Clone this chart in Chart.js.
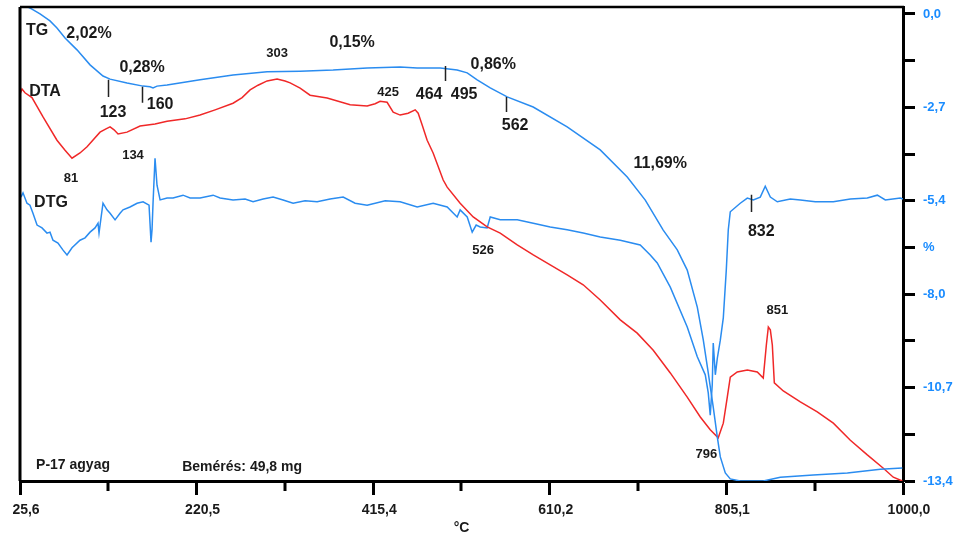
<!DOCTYPE html>
<html>
<head>
<meta charset="utf-8">
<script src="https://cdn.jsdelivr.net/npm/chart.js@4.4.1/dist/chart.umd.min.js"></script>
<style>
  html, body { margin: 0; padding: 0; background: #fff; }
  canvas { display: block; }
</style>
</head>
<body>
<canvas id="thermoCanvas" width="959" height="537"></canvas>
<script>
// ---- TG görbe (hőmérséklet °C, tömegváltozás %) ----
const tgTemp = [34.4, 38.8, 47.7, 58.7, 66.4, 75.3, 88.5, 102.9, 117.2, 125.0, 143.7, 161.4, 169.1, 172.4, 176.8, 187.9,
  224.3, 260.7, 298.3, 334.7, 371.1, 408.7, 445.1, 463.9, 489.3, 508.0, 519.1, 530.1, 544.5, 563.2, 591.9, 629.4,
  665.9, 695.7, 715.6, 735.4, 750.9, 761.9, 773.0, 779.6, 785.1, 790.6, 795.1, 798.4, 803.9, 809.4, 820.4, 845.8,
  864.6, 901.0, 938.6, 975.0, 999.3];
const tgMass = [0.20, 0.14, 0.00, -0.20, -0.40, -0.69, -1.03, -1.46, -1.78, -1.87, -1.98, -2.07, -2.09, -2.12, -2.07, -2.04,
  -1.89, -1.75, -1.66, -1.64, -1.61, -1.55, -1.52, -1.55, -1.55, -1.61, -1.69, -1.89, -2.12, -2.38, -2.67, -3.24,
  -3.90, -4.68, -5.34, -6.20, -6.77, -7.35, -8.41, -9.35, -10.30, -11.28, -12.14, -12.71, -13.17, -13.34, -13.40, -13.40,
  -13.29, -13.23, -13.17, -13.06, -13.03];

// ---- DTA görbe (relatív jel) ----
const dtaTemp = [25.6, 27.8, 31.1, 38.8, 51.0, 66.4, 75.3, 83.0, 91.8, 99.6, 113.9, 120.5, 125.0, 129.4, 133.8, 143.7,
  158.1, 174.6, 187.9, 207.8, 224.3, 240.9, 260.7, 270.7, 279.5, 288.3, 298.3, 309.3, 318.1, 323.7, 334.7, 345.7,
  364.5, 389.9, 408.7, 417.5, 423.0, 430.7, 437.4, 445.1, 453.9, 461.7, 465.0, 469.4, 474.9, 481.5, 492.6, 497.0,
  511.3, 525.7, 541.1, 555.5, 574.3, 592.0, 610.7, 629.4, 647.1, 665.9, 688.0, 706.7, 724.4, 743.2, 761.9, 776.3,
  787.3, 796.1, 801.7, 806.1, 809.4, 817.1, 828.2, 839.2, 845.8, 849.2, 851.4, 853.6, 855.8, 858.0, 867.9, 886.7,
  905.4, 923.1, 941.9, 960.6, 978.3, 989.3, 999.3];
const dtaSignal = [81.6, 82.7, 81.9, 80.9, 76.8, 71.9, 69.8, 68.1, 69.2, 70.5, 73.6, 74.3, 74.7, 74.1, 73.2, 73.6,
  74.9, 75.3, 75.9, 76.4, 77.2, 78.3, 79.7, 80.9, 82.5, 83.5, 84.4, 84.8, 84.4, 84.0, 82.9, 81.4,
  80.8, 79.4, 79.1, 79.6, 80.1, 79.9, 77.8, 77.2, 77.6, 78.3, 77.6, 75.1, 71.9, 69.2, 63.5, 62.0,
  58.6, 55.7, 53.6, 52.3, 49.8, 47.7, 45.6, 43.5, 41.4, 38.2, 34.0, 31.2, 27.6, 22.8, 17.7, 13.5,
  10.8, 9.1, 12.2, 17.7, 21.9, 23.0, 23.4, 23.0, 21.7, 28.7, 32.5, 31.9, 28.7, 20.7, 19.0, 16.7,
  14.6, 12.2, 8.6, 5.5, 2.7, 0.8, 0.0];

// ---- DTG görbe (relatív jel) ----
const dtgTemp = [26.7, 28.9, 33.3, 36.6, 39.9, 44.4, 49.9, 55.4, 58.7, 62.0, 67.5, 73.1, 77.5, 83.0, 91.8, 97.4,
  102.9, 108.4, 111.7, 112.8, 115.0, 117.2, 121.6, 125.0, 130.5, 136.0, 139.3, 147.0, 154.8, 161.4, 168.0, 170.2,
  171.3, 172.4, 174.6, 176.8, 180.2, 187.9, 194.5, 205.5, 213.3, 224.3, 238.7, 246.4, 260.7, 274.0, 282.8, 293.9,
  304.9, 315.9, 327.0, 340.2, 353.5, 367.8, 382.2, 395.4, 408.7, 428.5, 445.1, 463.9, 481.5, 497.0, 508.0, 511.3,
  519.1, 524.6, 529.0, 533.4, 541.1, 544.5, 555.5, 574.3, 592.0, 610.7, 629.4, 647.1, 665.9, 688.0, 710.0, 721.1,
  728.8, 743.2, 761.9, 773.0, 781.8, 785.1, 787.3, 789.5, 790.6, 792.9, 795.1, 798.4, 801.7, 805.0, 807.2, 809.4,
  820.4, 828.2, 834.8, 842.5, 848.0, 853.6, 861.3, 875.6, 886.7, 903.2, 923.1, 941.9, 960.6, 971.7, 980.5, 997.1,
  1000.0];
const dtgSignal = [59.9, 60.8, 58.6, 58.2, 56.5, 54.0, 53.4, 52.3, 52.5, 50.8, 50.2, 48.7, 47.7, 49.2, 50.8, 51.3,
  52.5, 53.4, 54.4, 52.3, 55.5, 58.6, 57.2, 56.5, 55.1, 56.5, 57.2, 57.8, 58.6, 58.9, 58.2, 50.4,
  53.0, 58.6, 68.1, 62.4, 59.3, 59.7, 59.7, 60.3, 59.7, 59.7, 60.3, 59.7, 59.3, 59.5, 58.9, 59.5,
  59.9, 59.3, 58.6, 59.1, 58.9, 59.5, 59.9, 58.6, 58.2, 59.1, 58.9, 57.8, 58.6, 57.8, 55.7, 57.2,
  55.7, 52.5, 54.0, 53.6, 53.4, 55.7, 55.1, 55.1, 54.4, 53.6, 53.0, 52.3, 51.5, 50.8, 49.8, 47.7,
  46.0, 40.9, 32.5, 26.2, 22.4, 18.6, 13.9, 20.3, 29.1, 22.4, 25.9, 29.7, 34.4, 44.5, 53.0, 56.8,
  58.6, 59.7, 59.3, 59.9, 62.2, 59.9, 58.9, 59.5, 59.3, 58.9, 58.9, 59.5, 59.7, 60.3, 59.3, 59.7,
  59.5];

// ---- tengelyek ----
const xTickValues = [25.6, 220.5, 415.4, 610.2, 805.1, 1000.0];
const xTickLabels = ['25,6', '220,5', '415,4', '610,2', '805,1', '1000,0'];
const xMinorTicks = [123.05, 317.95, 512.8, 707.65, 902.55];
const yTickValues = [0, -1.34, -2.68, -4.02, -5.36, -6.7, -8.04, -9.38, -10.72, -12.06, -13.4];
const yTickLabels = ['0,0', '', '-2,7', '', '-5,4', '%', '-8,0', '', '-10,7', '', '-13,4'];

// ---- feliratok (hőmérséklet, TG-skála szerinti hely) ----
const noteText = ['TG', '2,02%', '0,28%', 'DTA', '123', '160', '303', '81', '134', 'DTG', '0,15%', '0,86%',
  '425', '464', '495', '562', '11,69%', '526', '832', '851', '796', 'P-17 agyag', 'Bemérés: 49,8 mg'];
const noteTemp = [44.4, 101.8, 160.3, 53.2, 128.3, 180.2, 309.3, 81.9, 150.3, 59.8, 392.1, 547.8,
  431.9, 477.1, 515.7, 572.0, 732.1, 536.7, 843.6, 861.3, 782.9, 84.1, 270.7];
const noteMass = [-0.49, -0.57, -1.55, -2.24, -2.84, -2.61, -1.12, -4.71, -4.07, -5.42, -0.83, -1.46,
  -2.24, -2.32, -2.32, -3.19, -4.28, -6.77, -6.23, -8.52, -12.65, -12.94, -13.0];
const noteSize = [16, 16, 16, 16, 16, 16, 13, 13, 13, 16, 16, 16,
  13, 16, 16, 16, 16, 13, 16, 13, 13, 14, 14];

// jelölő vonalkák a TG görbén
const markerTemp = [123, 160, 495, 562, 832];
const markerTop = [-1.89, -2.09, -1.49, -2.38, -5.19];
const markerBottom = [-2.38, -2.55, -1.92, -2.81, -5.68];

const FONT = 'Arial, "Liberation Sans", sans-serif';
const BLUE = '#2a8cf0';
const RED = '#f02828';

const toPoints = (xs, ys) => xs.map((t, i) => ({ x: t, y: ys[i] }));

// keret, mellékosztások, feliratok
const overlayPlugin = {
  id: 'overlay',
  afterDraw(chart) {
    const { ctx, chartArea: a, scales } = chart;
    const x = scales.x, y = scales.y;
    ctx.save();
    ctx.strokeStyle = '#000';
    ctx.lineWidth = 3;
    ctx.beginPath();
    ctx.moveTo(a.left, a.bottom);
    ctx.lineTo(a.left, a.top);
    ctx.stroke();
    ctx.lineWidth = 2.5;
    ctx.beginPath();
    ctx.moveTo(a.left, a.top);
    ctx.lineTo(a.right + 1, a.top);
    ctx.stroke();

    ctx.lineWidth = 3;
    ctx.beginPath();
    xMinorTicks.forEach(t => {
      const px = Math.round(x.getPixelForValue(t));
      ctx.moveTo(px, a.bottom);
      ctx.lineTo(px, a.bottom + 10);
    });
    ctx.stroke();

    ctx.strokeStyle = '#222';
    ctx.lineWidth = 1.5;
    ctx.beginPath();
    markerTemp.forEach((t, i) => {
      const px = Math.round(x.getPixelForValue(t)) + 0.5;
      ctx.moveTo(px, y.getPixelForValue(markerTop[i]));
      ctx.lineTo(px, y.getPixelForValue(markerBottom[i]));
    });
    ctx.stroke();

    ctx.fillStyle = '#1a1a1a';
    ctx.textAlign = 'center';
    ctx.textBaseline = 'middle';
    noteText.forEach((txt, i) => {
      ctx.font = `bold ${noteSize[i]}px ${FONT}`;
      ctx.fillText(txt, x.getPixelForValue(noteTemp[i]), y.getPixelForValue(noteMass[i]));
    });
    ctx.restore();
  }
};

new Chart(document.getElementById('thermoCanvas'), {
  type: 'line',
  data: {
    datasets: [
      { label: 'TG', data: toPoints(tgTemp, tgMass), yAxisID: 'y', borderColor: BLUE },
      { label: 'DTA', data: toPoints(dtaTemp, dtaSignal), yAxisID: 'yDta', borderColor: RED },
      { label: 'DTG', data: toPoints(dtgTemp, dtgSignal), yAxisID: 'yDtg', borderColor: BLUE }
    ]
  },
  options: {
    responsive: false,
    animation: false,
    devicePixelRatio: 1,
    layout: { padding: { left: 20, top: 7, right: 0, bottom: 0 } },
    elements: {
      point: { radius: 0 },
      line: { borderWidth: 1.5, tension: 0, fill: false }
    },
    plugins: {
      legend: { display: false },
      tooltip: { enabled: false }
    },
    scales: {
      x: {
        type: 'linear',
        position: 'bottom',
        min: 25.6,
        max: 1000,
        afterBuildTicks: (scale) => { scale.ticks = xTickValues.map(v => ({ value: v })); },
        afterFit: (scale) => {
          scale.height = 56;
          scale.paddingLeft = 0;
          scale.paddingRight = 0;
        },
        border: { color: '#000', width: 3 },
        grid: { drawOnChartArea: false, tickLength: 14, tickWidth: 3, tickColor: '#000' },
        ticks: {
          autoSkip: false,
          maxRotation: 0,
          padding: 7,
          labelOffset: 6,
          color: '#1a1a1a',
          font: { family: FONT, size: 14, weight: 'bold' },
          callback: (v, i) => xTickLabels[i]
        },
        title: {
          display: true,
          text: '°C',
          color: '#1a1a1a',
          padding: { top: 0, bottom: 0 },
          font: { family: FONT, size: 14, weight: 'bold' }
        }
      },
      y: {
        type: 'linear',
        position: 'right',
        min: -13.4,
        max: 0.2,
        afterBuildTicks: (scale) => { scale.ticks = yTickValues.map(v => ({ value: v })); },
        afterFit: (scale) => {
          scale.width = 56;
          scale.paddingTop = 0;
          scale.paddingBottom = 0;
        },
        border: { color: '#000', width: 3 },
        grid: { drawOnChartArea: false, tickLength: 12, tickWidth: 3, tickColor: '#000' },
        ticks: {
          padding: 8,
          color: '#1a8cff',
          font: { family: FONT, size: 13, weight: 'bold' },
          callback: (v, i) => yTickLabels[i]
        }
      },
      yDta: { type: 'linear', display: false, min: 0, max: 100 },
      yDtg: { type: 'linear', display: false, min: 0, max: 100 }
    }
  },
  plugins: [overlayPlugin]
});
</script>
</body>
</html>
